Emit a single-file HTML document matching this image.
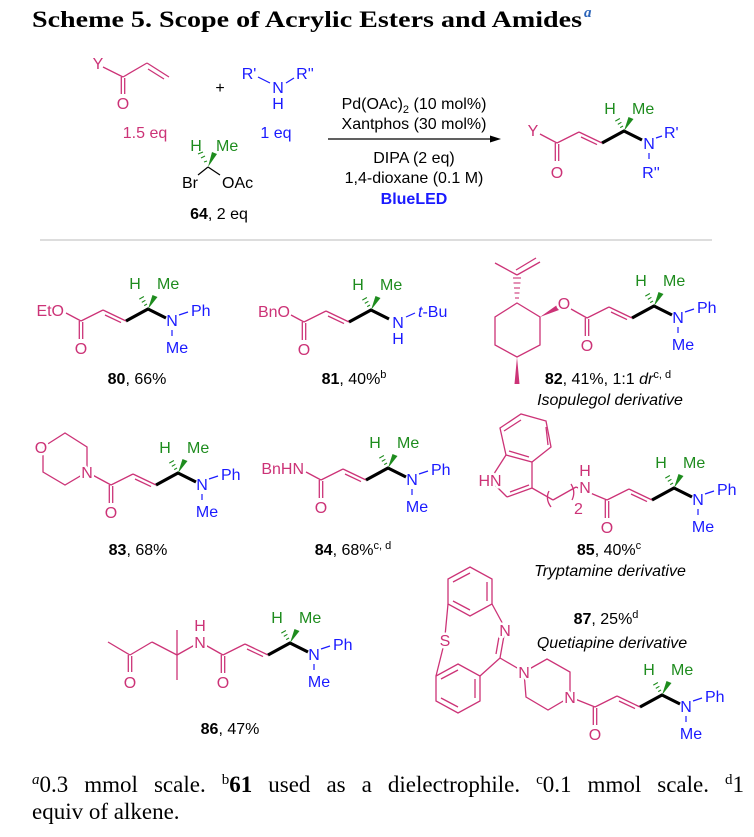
<!DOCTYPE html>
<html><head><meta charset="utf-8"><style>
html,body{margin:0;padding:0;background:#fff;}
body{position:relative;width:754px;height:837px;overflow:hidden;}
svg{display:block;position:absolute;left:0;top:0;}
text{font-family:"Liberation Sans",sans-serif;font-size:16px;}
.a{paint-order:stroke;stroke:#fff;stroke-width:5px;stroke-linejoin:round;}
.p{fill:#cc3377;} .b{fill:#1a1aff;} .g{fill:#1e8c1e;} .k{fill:#000;}
.m{text-anchor:middle;} .e{text-anchor:end;}
.serif{font-family:"Liberation Serif",serif;}
.fn{position:absolute;left:32px;width:712px;font-family:"Liberation Serif",serif;font-size:23px;line-height:27px;white-space:nowrap;}
.fn1{top:771px;text-align:justify;text-align-last:justify;}
.fn2{top:798px;}
.fn sup{font-size:15px;line-height:0;vertical-align:8px;}
</style></head><body>
<svg width="754" height="837" viewBox="0 0 754 837" xmlns="http://www.w3.org/2000/svg">
<defs>
<g id="tp">
 <g stroke="#cc3377" stroke-width="1.3" fill="none">
  <line x1="-1.7" y1="0" x2="-1.7" y2="18"/><line x1="1.7" y1="1" x2="1.7" y2="18"/>
  <line x1="0" y1="0" x2="22" y2="-11"/><line x1="22" y1="-11" x2="45" y2="0"/><line x1="24" y1="-6" x2="40" y2="1.6"/>
 </g>
 <path d="M45 0 L67 -12 L85 -3" stroke="#000" stroke-width="3.2" fill="none" stroke-linejoin="round"/>
 <polygon points="67,-12 71.5,-26 76.5,-24" fill="#1e8c1e"/>
 <g stroke="#1e8c1e" stroke-width="1.1">
  <line x1="63.2" y1="-15.4" x2="66" y2="-17"/><line x1="60.8" y1="-18.6" x2="64.4" y2="-20.7"/>
  <line x1="58.3" y1="-21.9" x2="62.9" y2="-24.5"/>
 </g>
</g>
<g id="nme">
 <line x1="98" y1="-6" x2="107" y2="-9" stroke="#1a1aff" stroke-width="1.2"/>
 <line x1="91" y1="9" x2="91" y2="15" stroke="#1a1aff" stroke-width="1.2"/>
</g>
</defs>

<!-- Title -->
<text x="32" y="27" class="serif" style="font-size:23px;font-weight:bold" textLength="550" lengthAdjust="spacingAndGlyphs">Scheme 5. Scope of Acrylic Esters and Amides</text>
<text x="584" y="17" class="serif" style="font-size:15px;font-style:italic;font-weight:bold;fill:#2a63b8">a</text>

<!-- Reactants -->
<g stroke="#cc3377" stroke-width="1.3" fill="none">
 <line x1="103" y1="67" x2="123" y2="77"/><line x1="121.3" y1="77" x2="121.3" y2="94"/><line x1="124.7" y1="78" x2="124.7" y2="94"/>
 <line x1="123" y1="77" x2="147" y2="63"/><line x1="147" y1="63" x2="169" y2="77"/><line x1="148" y1="69" x2="164" y2="79"/>
</g>
<text x="98" y="69" class="p m a">Y</text><text x="123" y="109" class="p m">O</text>
<text x="145" y="138" class="p m">1.5 eq</text>
<text x="220" y="93" class="k m">+</text>
<g stroke="#1a1aff" stroke-width="1.2"><line x1="258" y1="77" x2="270" y2="83"/><line x1="286" y1="83" x2="294" y2="78"/></g>
<text x="249" y="79" class="b m">R'</text><text x="278" y="93" class="b m">N</text><text x="305" y="79" class="b m">R''</text><text x="278" y="109" class="b m">H</text>
<text x="276" y="138" class="b m">1 eq</text>
<g stroke="#000" stroke-width="1.2"><line x1="198" y1="175" x2="208" y2="167"/><line x1="208" y1="167" x2="220" y2="175"/></g>
<polygon points="208,167 212,152 217,154" fill="#1e8c1e"/>
<g stroke="#1e8c1e" stroke-width="1.1"><line x1="204" y1="162" x2="207" y2="161"/><line x1="201" y1="158" x2="205" y2="156"/><line x1="198" y1="154" x2="203" y2="152"/></g>
<text x="196" y="151" class="g m">H</text><text x="216" y="151" class="g">Me</text>
<text x="190" y="188" class="k m">Br</text><text x="222" y="188" class="k">OAc</text>
<text x="219" y="219" class="k m"><tspan font-weight="bold">64</tspan>, 2 eq</text>

<!-- Arrow + conditions -->
<line x1="328" y1="139" x2="494" y2="139" stroke="#000" stroke-width="1.2"/>
<polygon points="501,139 490,135.5 490,142.5" fill="#000"/>
<text x="414" y="109" class="k m">Pd(OAc)<tspan font-size="11" dy="4">2</tspan><tspan dy="-4"> (10 mol%)</tspan></text>
<text x="414" y="129" class="k m">Xantphos (30 mol%)</text>
<text x="414" y="163" class="k m">DIPA (2 eq)</text>
<text x="414" y="183" class="k m">1,4-dioxane (0.1 M)</text>
<text x="414" y="204" class="b m" font-weight="bold">BlueLED</text>

<!-- Product -->
<use href="#tp" x="557" y="143"/>
<line x1="557" y1="143" x2="540" y2="134" stroke="#cc3377" stroke-width="1.3"/>
<text x="533" y="136" class="p m a">Y</text><text x="557" y="178" class="p m">O</text>
<text x="610" y="114" class="g m">H</text><text x="632" y="114" class="g">Me</text>
<text x="649" y="149" class="b m">N</text>
<g stroke="#1a1aff" stroke-width="1.2"><line x1="656" y1="138" x2="662" y2="136"/><line x1="649" y1="153" x2="649" y2="159"/></g>
<text x="664" y="138" class="b">R'</text><text x="651" y="178" class="b m">R''</text>

<line x1="40" y1="240" x2="712" y2="240" stroke="#bbb" stroke-width="1"/>

<!-- 80 -->
<use href="#tp" x="81" y="321"/><use href="#nme" x="81" y="321"/>
<line x1="81" y1="321" x2="66" y2="313" stroke="#cc3377" stroke-width="1.3"/>
<text x="64" y="316" class="p e">EtO</text><text x="81" y="354" class="p m">O</text>
<text x="135" y="289" class="g m">H</text><text x="157" y="289" class="g">Me</text>
<text x="172" y="326" class="b m">N</text><text x="191" y="316" class="b">Ph</text><text x="177" y="353" class="b m">Me</text>
<text x="137" y="384" class="k m"><tspan font-weight="bold">80</tspan>, 66%</text>

<!-- 81 -->
<use href="#tp" x="304" y="322"/>
<line x1="304" y1="322" x2="291" y2="315" stroke="#cc3377" stroke-width="1.3"/>
<text x="290" y="317" class="p e">BnO</text><text x="304" y="355" class="p m">O</text>
<text x="358" y="290" class="g m">H</text><text x="380" y="290" class="g">Me</text>
<text x="398" y="328" class="b m">N</text><text x="398" y="344" class="b m">H</text>
<line x1="406" y1="317" x2="415" y2="313" stroke="#1a1aff" stroke-width="1.2"/>
<text x="418" y="317" class="b"><tspan font-style="italic">t</tspan>-Bu</text>
<text x="354" y="384" class="k m"><tspan font-weight="bold">81</tspan>, 40%<tspan font-size="11" dy="-6">b</tspan></text>

<!-- 82 -->
<g stroke="#cc3377" stroke-width="1.3" fill="none">
 <polygon points="517,303 540,317 540,345 517,357 495,345 495,317"/>
 <line x1="517" y1="275" x2="495" y2="263"/><line x1="517" y1="275" x2="540" y2="262"/><line x1="516" y1="270" x2="536" y2="258"/>
 <line x1="587" y1="318" x2="571" y2="309"/>
</g>
<g stroke="#cc3377" stroke-width="1.1">
 <line x1="515" y1="298" x2="519" y2="298"/><line x1="514.5" y1="293" x2="519.5" y2="293"/><line x1="514" y1="288" x2="520" y2="288"/><line x1="513.5" y1="283" x2="520.5" y2="283"/><line x1="513" y1="278" x2="521" y2="278"/>
</g>
<polygon points="540,317 557,305 559,310" fill="#cc3377"/>
<polygon points="517,357 514.5,384 519.5,384" fill="#cc3377"/>
<use href="#tp" x="587" y="318"/><use href="#nme" x="587" y="318"/>
<text x="564" y="309" class="p m a">O</text><text x="587" y="351" class="p m">O</text>
<text x="641" y="286" class="g m">H</text><text x="663" y="286" class="g">Me</text>
<text x="678" y="323" class="b m">N</text><text x="697" y="313" class="b">Ph</text><text x="683" y="350" class="b m">Me</text>
<text x="608" y="384" class="k m"><tspan font-weight="bold">82</tspan>, 41%, 1:1 <tspan font-style="italic">dr</tspan><tspan font-size="11" dy="-6">c, d</tspan></text>
<text x="610" y="405" class="k m" font-style="italic">Isopulegol derivative</text>

<!-- 83 -->
<g stroke="#cc3377" stroke-width="1.3" fill="none">
 <polygon points="43,447 65,433 87,447 87,472 65,485 43,472"/>
 <line x1="87" y1="472" x2="111" y2="485"/>
</g>
<text x="41" y="453" class="p m a">O</text><text x="87" y="478" class="p m a">N</text>
<use href="#tp" x="111" y="485"/><use href="#nme" x="111" y="485"/>
<text x="111" y="518" class="p m">O</text>
<text x="165" y="453" class="g m">H</text><text x="187" y="453" class="g">Me</text>
<text x="202" y="490" class="b m">N</text><text x="221" y="480" class="b">Ph</text><text x="207" y="517" class="b m">Me</text>
<text x="138" y="555" class="k m"><tspan font-weight="bold">83</tspan>, 68%</text>

<!-- 84 -->
<use href="#tp" x="321" y="480"/><use href="#nme" x="321" y="480"/>
<line x1="321" y1="480" x2="306" y2="472" stroke="#cc3377" stroke-width="1.3"/>
<text x="304" y="474" class="p e">BnHN</text><text x="321" y="513" class="p m">O</text>
<text x="375" y="448" class="g m">H</text><text x="397" y="448" class="g">Me</text>
<text x="412" y="485" class="b m">N</text><text x="431" y="475" class="b">Ph</text><text x="417" y="512" class="b m">Me</text>
<text x="353" y="555" class="k m"><tspan font-weight="bold">84</tspan>, 68%<tspan font-size="11" dy="-6">c, d</tspan></text>

<!-- 85 -->
<g stroke="#cc3377" stroke-width="1.3" fill="none">
 <polygon points="500,428 521,414 546,421 551,447 532,462 506,455"/>
 <line x1="504" y1="431" x2="521" y2="420"/><line x1="546" y1="427" x2="548" y2="445"/><line x1="529" y1="457" x2="509" y2="451"/>
 <line x1="506" y1="455" x2="490" y2="480"/><line x1="490" y1="480" x2="507" y2="497"/>
 <line x1="507" y1="497" x2="532" y2="488"/><line x1="510" y1="492" x2="529" y2="485"/>
 <line x1="532" y1="488" x2="532" y2="462"/>
 <line x1="532" y1="488" x2="553" y2="500"/><line x1="553" y1="500" x2="576" y2="487"/><line x1="576" y1="487" x2="607" y2="500"/>
 <path d="M549 491 Q545 499 551 507"/><path d="M571 484 Q576 492 572 500"/>
</g>
<text x="490" y="486" class="p m a">HN</text>
<text x="585" y="493" class="p m a">N</text><text x="585" y="476" class="p m">H</text>
<text x="574" y="514" class="p" font-size="12">2</text>
<use href="#tp" x="607" y="500"/><use href="#nme" x="607" y="500"/>
<text x="607" y="533" class="p m">O</text>
<text x="661" y="468" class="g m">H</text><text x="683" y="468" class="g">Me</text>
<text x="698" y="505" class="b m">N</text><text x="717" y="495" class="b">Ph</text><text x="703" y="532" class="b m">Me</text>
<text x="609" y="555" class="k m"><tspan font-weight="bold">85</tspan>, 40%<tspan font-size="11" dy="-6">c</tspan></text>
<text x="610" y="576" class="k m" font-style="italic">Tryptamine derivative</text>

<!-- 86 -->
<g stroke="#cc3377" stroke-width="1.3" fill="none">
 <line x1="108" y1="642" x2="130" y2="655"/><line x1="128.3" y1="655" x2="128.3" y2="672"/><line x1="131.7" y1="656" x2="131.7" y2="672"/>
 <line x1="130" y1="655" x2="152" y2="642"/><line x1="152" y1="642" x2="177" y2="655"/>
 <line x1="177" y1="630" x2="177" y2="680"/><line x1="177" y1="655" x2="200" y2="642"/><line x1="200" y1="642" x2="223" y2="655"/>
</g>
<text x="130" y="688" class="p m">O</text>
<text x="200" y="648" class="p m a">N</text><text x="200" y="631" class="p m">H</text>
<use href="#tp" x="223" y="655"/><use href="#nme" x="223" y="655"/>
<text x="223" y="688" class="p m">O</text>
<text x="277" y="623" class="g m">H</text><text x="299" y="623" class="g">Me</text>
<text x="314" y="660" class="b m">N</text><text x="333" y="650" class="b">Ph</text><text x="319" y="687" class="b m">Me</text>
<text x="230" y="734" class="k m"><tspan font-weight="bold">86</tspan>, 47%</text>

<!-- 87 -->
<g stroke="#cc3377" stroke-width="1.3" fill="none">
 <polygon points="470,567 492,579 492,604 470,616 448,604 448,579"/>
 <line x1="453" y1="582" x2="470" y2="573"/><line x1="487" y1="582" x2="487" y2="601"/><line x1="470" y1="610" x2="453" y2="601"/>
 <line x1="448" y1="604" x2="445" y2="636"/><line x1="492" y1="604" x2="505" y2="628"/>
 <line x1="505" y1="630" x2="500" y2="658"/><line x1="500" y1="631" x2="496" y2="654"/>
 <polygon points="458,664 480,676 480,701 458,713 436,701 436,676"/>
 <line x1="441" y1="679" x2="458" y2="670"/><line x1="475" y1="679" x2="475" y2="698"/><line x1="458" y1="707" x2="441" y2="698"/>
 <line x1="445" y1="640" x2="436" y2="676"/><line x1="480" y1="676" x2="500" y2="658"/><line x1="500" y1="658" x2="524" y2="672"/>
 <polygon points="524,672 547,659 570,672 570,697 548,710 526,697"/>
 <line x1="570" y1="697" x2="595" y2="707"/>
</g>
<text x="445" y="646" class="p m a">S</text><text x="505" y="636" class="p m a">N</text>
<text x="524" y="678" class="p m a">N</text><text x="570" y="703" class="p m a">N</text>
<use href="#tp" x="595" y="707"/><use href="#nme" x="595" y="707"/>
<text x="595" y="740" class="p m">O</text>
<text x="649" y="675" class="g m">H</text><text x="671" y="675" class="g">Me</text>
<text x="686" y="712" class="b m">N</text><text x="705" y="702" class="b">Ph</text><text x="691" y="739" class="b m">Me</text>
<text x="606" y="624" class="k m"><tspan font-weight="bold">87</tspan>, 25%<tspan font-size="11" dy="-6">d</tspan></text>
<text x="612" y="648" class="k m" font-style="italic">Quetiapine derivative</text>
</svg>
<div class="fn fn1"><sup><i>a</i></sup>0.3 mmol scale. <sup>b</sup><b>61</b> used as a dielectrophile. <sup>c</sup>0.1 mmol scale. <sup>d</sup>1</div>
<div class="fn fn2">equiv of alkene.</div>
</body></html>
